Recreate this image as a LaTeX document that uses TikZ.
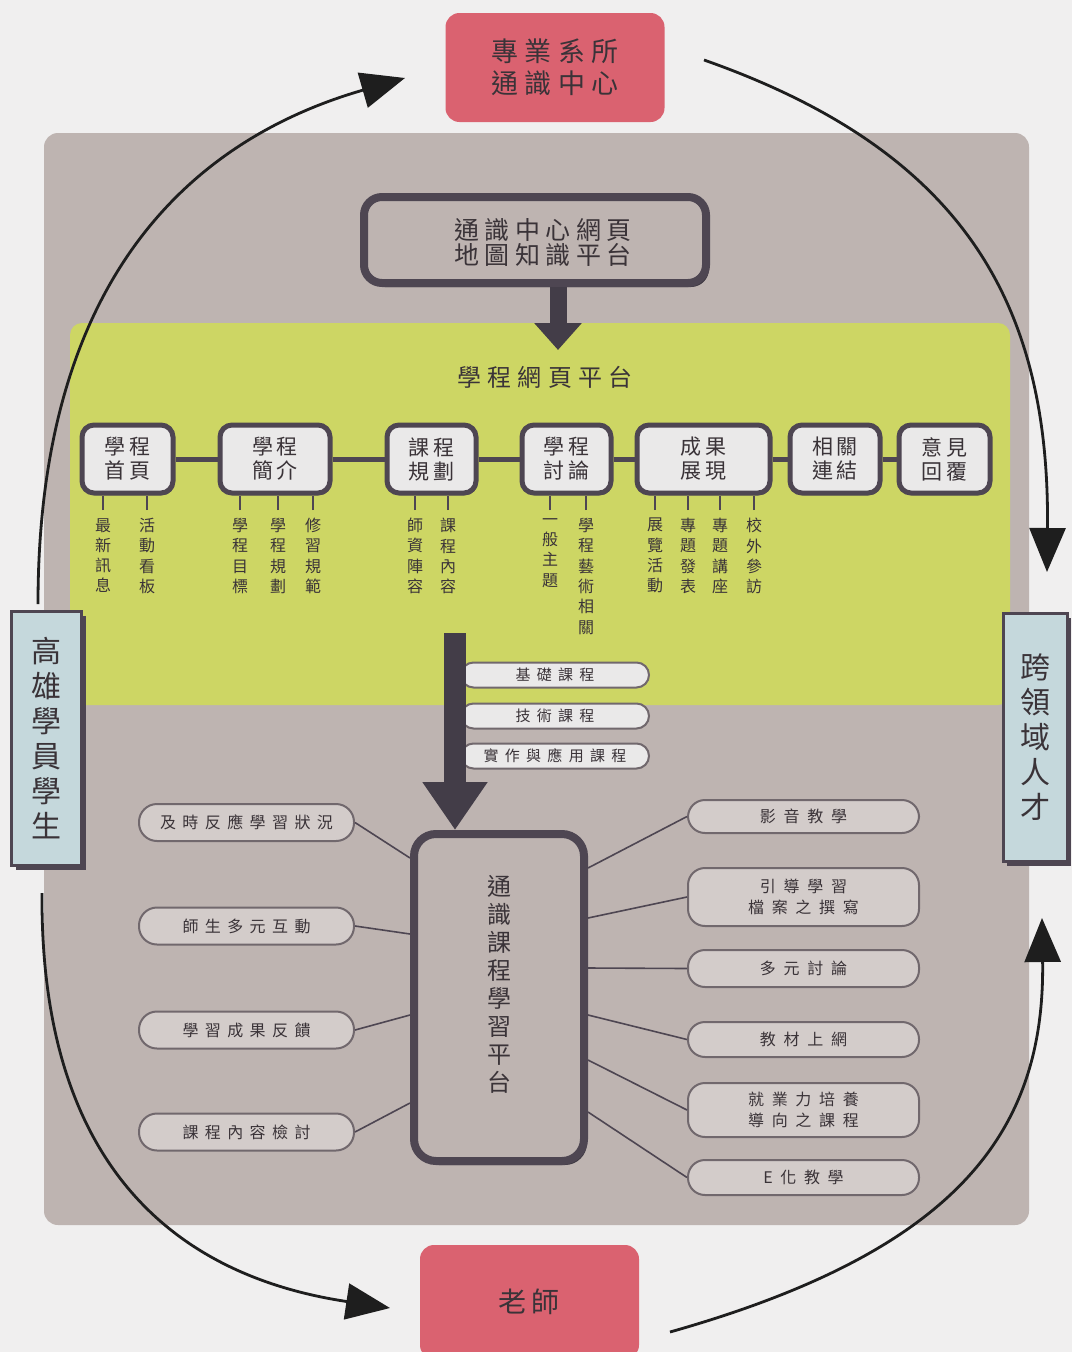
\documentclass[tikz,border=0pt]{standalone}
\usepackage{fontspec}
\newfontfamily\cjk{Noto Sans CJK TC}
\usetikzlibrary{arrows.meta,shadows}
\definecolor{pagebg}{HTML}{F0EFEF}
\definecolor{taupe}{HTML}{BEB4B1}
\definecolor{lime}{HTML}{CDD664}
\definecolor{rose}{HTML}{DA6270}
\definecolor{sky}{HTML}{C5D8DC}
\definecolor{dark}{HTML}{4E4652}
\definecolor{arrowdark}{HTML}{433D48}
\definecolor{ink}{HTML}{3A3338}
\definecolor{boxfill}{HTML}{EAE9E9}
\definecolor{pillfill}{HTML}{D3CCCA}
\definecolor{pilledge}{HTML}{71686D}
\definecolor{arcc}{HTML}{1E1E1E}
\newcommand\fs[3]{\cjk\fontsize{#1}{#2}\selectfont\addfontfeature{LetterSpace=#3}}
\begin{document}
\begin{tikzpicture}[x=1pt,y=-1pt,
  every node/.style={inner sep=0pt, text=ink, align=center},
  redbox/.style={fill=rose, rounded corners=14pt, minimum width=219pt, minimum height=109pt},
  thickbox/.style={draw=dark, line width=8pt, fill=taupe, rounded corners=18pt, drop shadow={shadow xshift=3pt, shadow yshift=-4pt, fill=dark!80!black, opacity=1}},
  rowbox/.style={draw=dark, line width=5pt, fill=boxfill, rounded corners=12pt, minimum height=68pt, font=\fs{21}{24}{18}, drop shadow={shadow xshift=1.5pt, shadow yshift=-2pt, fill=dark, opacity=1}},
  sublabel/.style={anchor=north, font=\fs{16}{20.3}{0}},
  tick/.style={draw=dark, line width=1.6pt},
  link/.style={draw=dark, line width=5pt},
  midpill/.style={draw=pilledge, line width=2pt, fill=boxfill, rounded corners=12.5pt, minimum width=188pt, minimum height=25pt, font=\fs{15}{18}{42}},
  leftpill/.style={draw=pilledge, line width=2pt, fill=pillfill, rounded corners=18pt, minimum width=215pt, minimum height=37pt, font=\fs{16}{21}{40}},
  rightpill/.style={draw=pilledge, line width=2pt, fill=pillfill, rounded corners=17pt, minimum width=231pt, font=\fs{16}{21}{48}},
  spoke/.style={draw=dark, line width=1.6pt},
  sidebox/.style={draw=dark, line width=3pt, fill=sky, drop shadow={shadow xshift=4pt, shadow yshift=-4pt, fill=dark, opacity=1}, font=\fs{30}{35}{0}},
  arc/.style={draw=arcc, line width=2.8pt, -{Triangle[length=44pt,width=36pt]}},
]
\clip (0,0) rectangle (1072,1352);
\fill[pagebg] (0,0) rectangle (1072,1352);
% panels
\fill[taupe, rounded corners=14pt] (44,133) rectangle (1029,1225);
\fill[lime, rounded corners=12pt] (70,323) rectangle (1010,705);

% outer cycle arcs
\coordinate (t1s) at (38,604);  \coordinate (t1e) at (405,78);
\coordinate (t2s) at (704,60);  \coordinate (t2e) at (1047,572);
\coordinate (t3s) at (42,893);  \coordinate (t3e) at (390,1308);
\coordinate (t4s) at (670,1332); \coordinate (t4e) at (1042,918);
\draw[arc] (t1s) .. controls (38,280) and (190,140) .. (t1e);
\draw[arc] (t2s) .. controls (960,150) and (1050,300) .. (t2e);
\draw[arc] (t3s) .. controls (40,1160) and (170,1275) .. (t3e);
\draw[arc] (t4s) .. controls (960,1250) and (1045,1130) .. (t4e);

% red boxes
\node[redbox, font=\fs{27}{32}{24}] (dept) at (555,67.5) {專業系所\\通識中心};
\node[redbox, minimum height=114pt, font=\fs{28}{32}{18}] (teach) at (529.5,1302) {老師};

% side boxes
\node[sidebox, minimum width=70pt, minimum height=254pt] (stu) at (46.5,738.5) {高\\雄\\學\\員\\學\\生};
\node[sidebox, minimum width=64pt, minimum height=248pt] (tal) at (1035,737.5) {跨\\領\\域\\人\\才};

% web map box
\node[thickbox, minimum width=342pt, minimum height=86pt,
      label={[xshift=8pt, yshift=-2pt, font=\fs{25}{25}{22}]center:{通識中心網頁\\地圖知識平台}}] (web) at (535,240) {};
\coordinate (a1e) at (558,350);
\draw[draw=arrowdark, line width=17pt, -{Triangle[length=27pt,width=46pt]}] (web.south -| a1e) -- (a1e);

\node[font=\fs{24}{28}{26}] (prog) at (545,377) {學程網頁平台};

% row of program boxes
\node[rowbox, minimum width=91pt]  (b1) at (127.5,459) {學程\\首頁};
\node[rowbox, minimum width=110pt] (b2) at (275,459) {學程\\簡介};
\node[rowbox, minimum width=89pt]  (b3) at (431.5,459) {課程\\規劃};
\node[rowbox, minimum width=89pt]  (b4) at (566.5,459) {學程\\討論};
\node[rowbox, minimum width=133pt] (b5) at (703.5,459) {成果\\展現};
\node[rowbox, minimum width=90pt]  (b6) at (835,459) {相關\\連結};
\node[rowbox, minimum width=91pt]  (b7) at (944.5,459) {意見\\回覆};
\draw[link] (b1) -- (b2);
\draw[link] (b2) -- (b3);
\draw[link] (b3) -- (b4);
\draw[link] (b4) -- (b5);
\draw[link] (b5) -- (b6);
\draw[link] (b6) -- (b7);

% sub labels
\node[sublabel] (s11) at (103,518) {最\\新\\訊\\息};
\node[sublabel] (s12) at (147,518) {活\\動\\看\\板};
\node[sublabel] (s21) at (240,518) {學\\程\\目\\標};
\node[sublabel] (s22) at (278,518) {學\\程\\規\\劃};
\node[sublabel] (s23) at (313,518) {修\\習\\規\\範};
\node[sublabel] (s31) at (415,518) {師\\資\\陣\\容};
\node[sublabel] (s32) at (448,518) {課\\程\\內\\容};
\node[sublabel] (s41) at (550,518) {一\\般\\主\\題};
\node[sublabel] (s42) at (586,518) {學\\程\\藝\\術\\相\\關};
\node[sublabel] (s51) at (655,518) {展\\覽\\活\\動};
\node[sublabel] (s52) at (688,518) {專\\題\\發\\表};
\node[sublabel] (s53) at (720,518) {專\\題\\講\\座};
\node[sublabel] (s54) at (754,518) {校\\外\\參\\訪};
\draw[tick] ([yshift=8pt]s11.north) -- (s11.north |- b1.south);
\draw[tick] ([yshift=8pt]s12.north) -- (s12.north |- b1.south);
\draw[tick] ([yshift=8pt]s21.north) -- (s21.north |- b2.south);
\draw[tick] ([yshift=8pt]s22.north) -- (s22.north |- b2.south);
\draw[tick] ([yshift=8pt]s23.north) -- (s23.north |- b2.south);
\draw[tick] ([yshift=8pt]s31.north) -- (s31.north |- b3.south);
\draw[tick] ([yshift=8pt]s32.north) -- (s32.north |- b3.south);
\draw[tick] ([yshift=8pt]s41.north) -- (s41.north |- b4.south);
\draw[tick] ([yshift=8pt]s42.north) -- (s42.north |- b4.south);
\draw[tick] ([yshift=8pt]s51.north) -- (s51.north |- b5.south);
\draw[tick] ([yshift=8pt]s52.north) -- (s52.north |- b5.south);
\draw[tick] ([yshift=8pt]s53.north) -- (s53.north |- b5.south);
\draw[tick] ([yshift=8pt]s54.north) -- (s54.north |- b5.south);

% course pills
\node[midpill] (m1) at (555,675) {基礎課程};
\node[midpill] (m2) at (555,716) {技術課程};
\node[midpill] (m3) at (555,756) {實作與應用課程};

% central platform
\node[thickbox, minimum width=170pt, minimum height=327pt, rounded corners=22pt,
      label={[yshift=13pt, font=\fs{24}{28}{0}]center:{通\\識\\課\\程\\學\\習\\平\\台}}] (cbox) at (499,997.5) {};
\coordinate (a2s) at (455,633);
\draw[draw=arrowdark, line width=22pt, -{Triangle[length=48pt,width=62pt]}] (a2s) -- (a2s |- cbox.north);

% left pills
\node[leftpill] (l1) at (246.5,822.5) {及時反應學習狀況};
\node[leftpill] (l2) at (246.5,926) {師生多元互動};
\node[leftpill] (l3) at (246.5,1030) {學習成果反饋};
\node[leftpill] (l4) at (246.5,1132) {課程內容檢討};
\draw[spoke] (l1.east) -- (cbox.west |- 0,858);
\draw[spoke] (l2.east) -- (cbox.west |- 0,934);
\draw[spoke] (l3.east) -- (cbox.west |- 0,1015);
\draw[spoke] (l4.east) -- (cbox.west |- 0,1103);

% right pills
\node[rightpill, minimum height=33pt] (r1) at (803.5,816.5) {影音教學};
\node[rightpill, minimum height=58pt] (r2) at (803.5,897) {引導學習\\檔案之撰寫};
\node[rightpill, minimum height=37pt] (r3) at (803.5,968.5) {多元討論};
\node[rightpill, minimum height=35pt] (r4) at (803.5,1039.5) {教材上網};
\node[rightpill, minimum height=54pt] (r5) at (803.5,1110) {就業力培養\\導向之課程};
\node[rightpill, minimum height=35pt] (r6) at (803.5,1177.5) {E化教學};
\draw[spoke] (cbox.east |- 0,868) -- (r1.west);
\draw[spoke] (cbox.east |- 0,918) -- (r2.west);
\draw[spoke] (cbox.east |- 0,968) -- (r3.west);
\draw[spoke] (cbox.east |- 0,1015) -- (r4.west);
\draw[spoke] (cbox.east |- 0,1060) -- (r5.west);
\draw[spoke] (cbox.east |- 0,1112) -- (r6.west);
\end{tikzpicture}
\end{document}
